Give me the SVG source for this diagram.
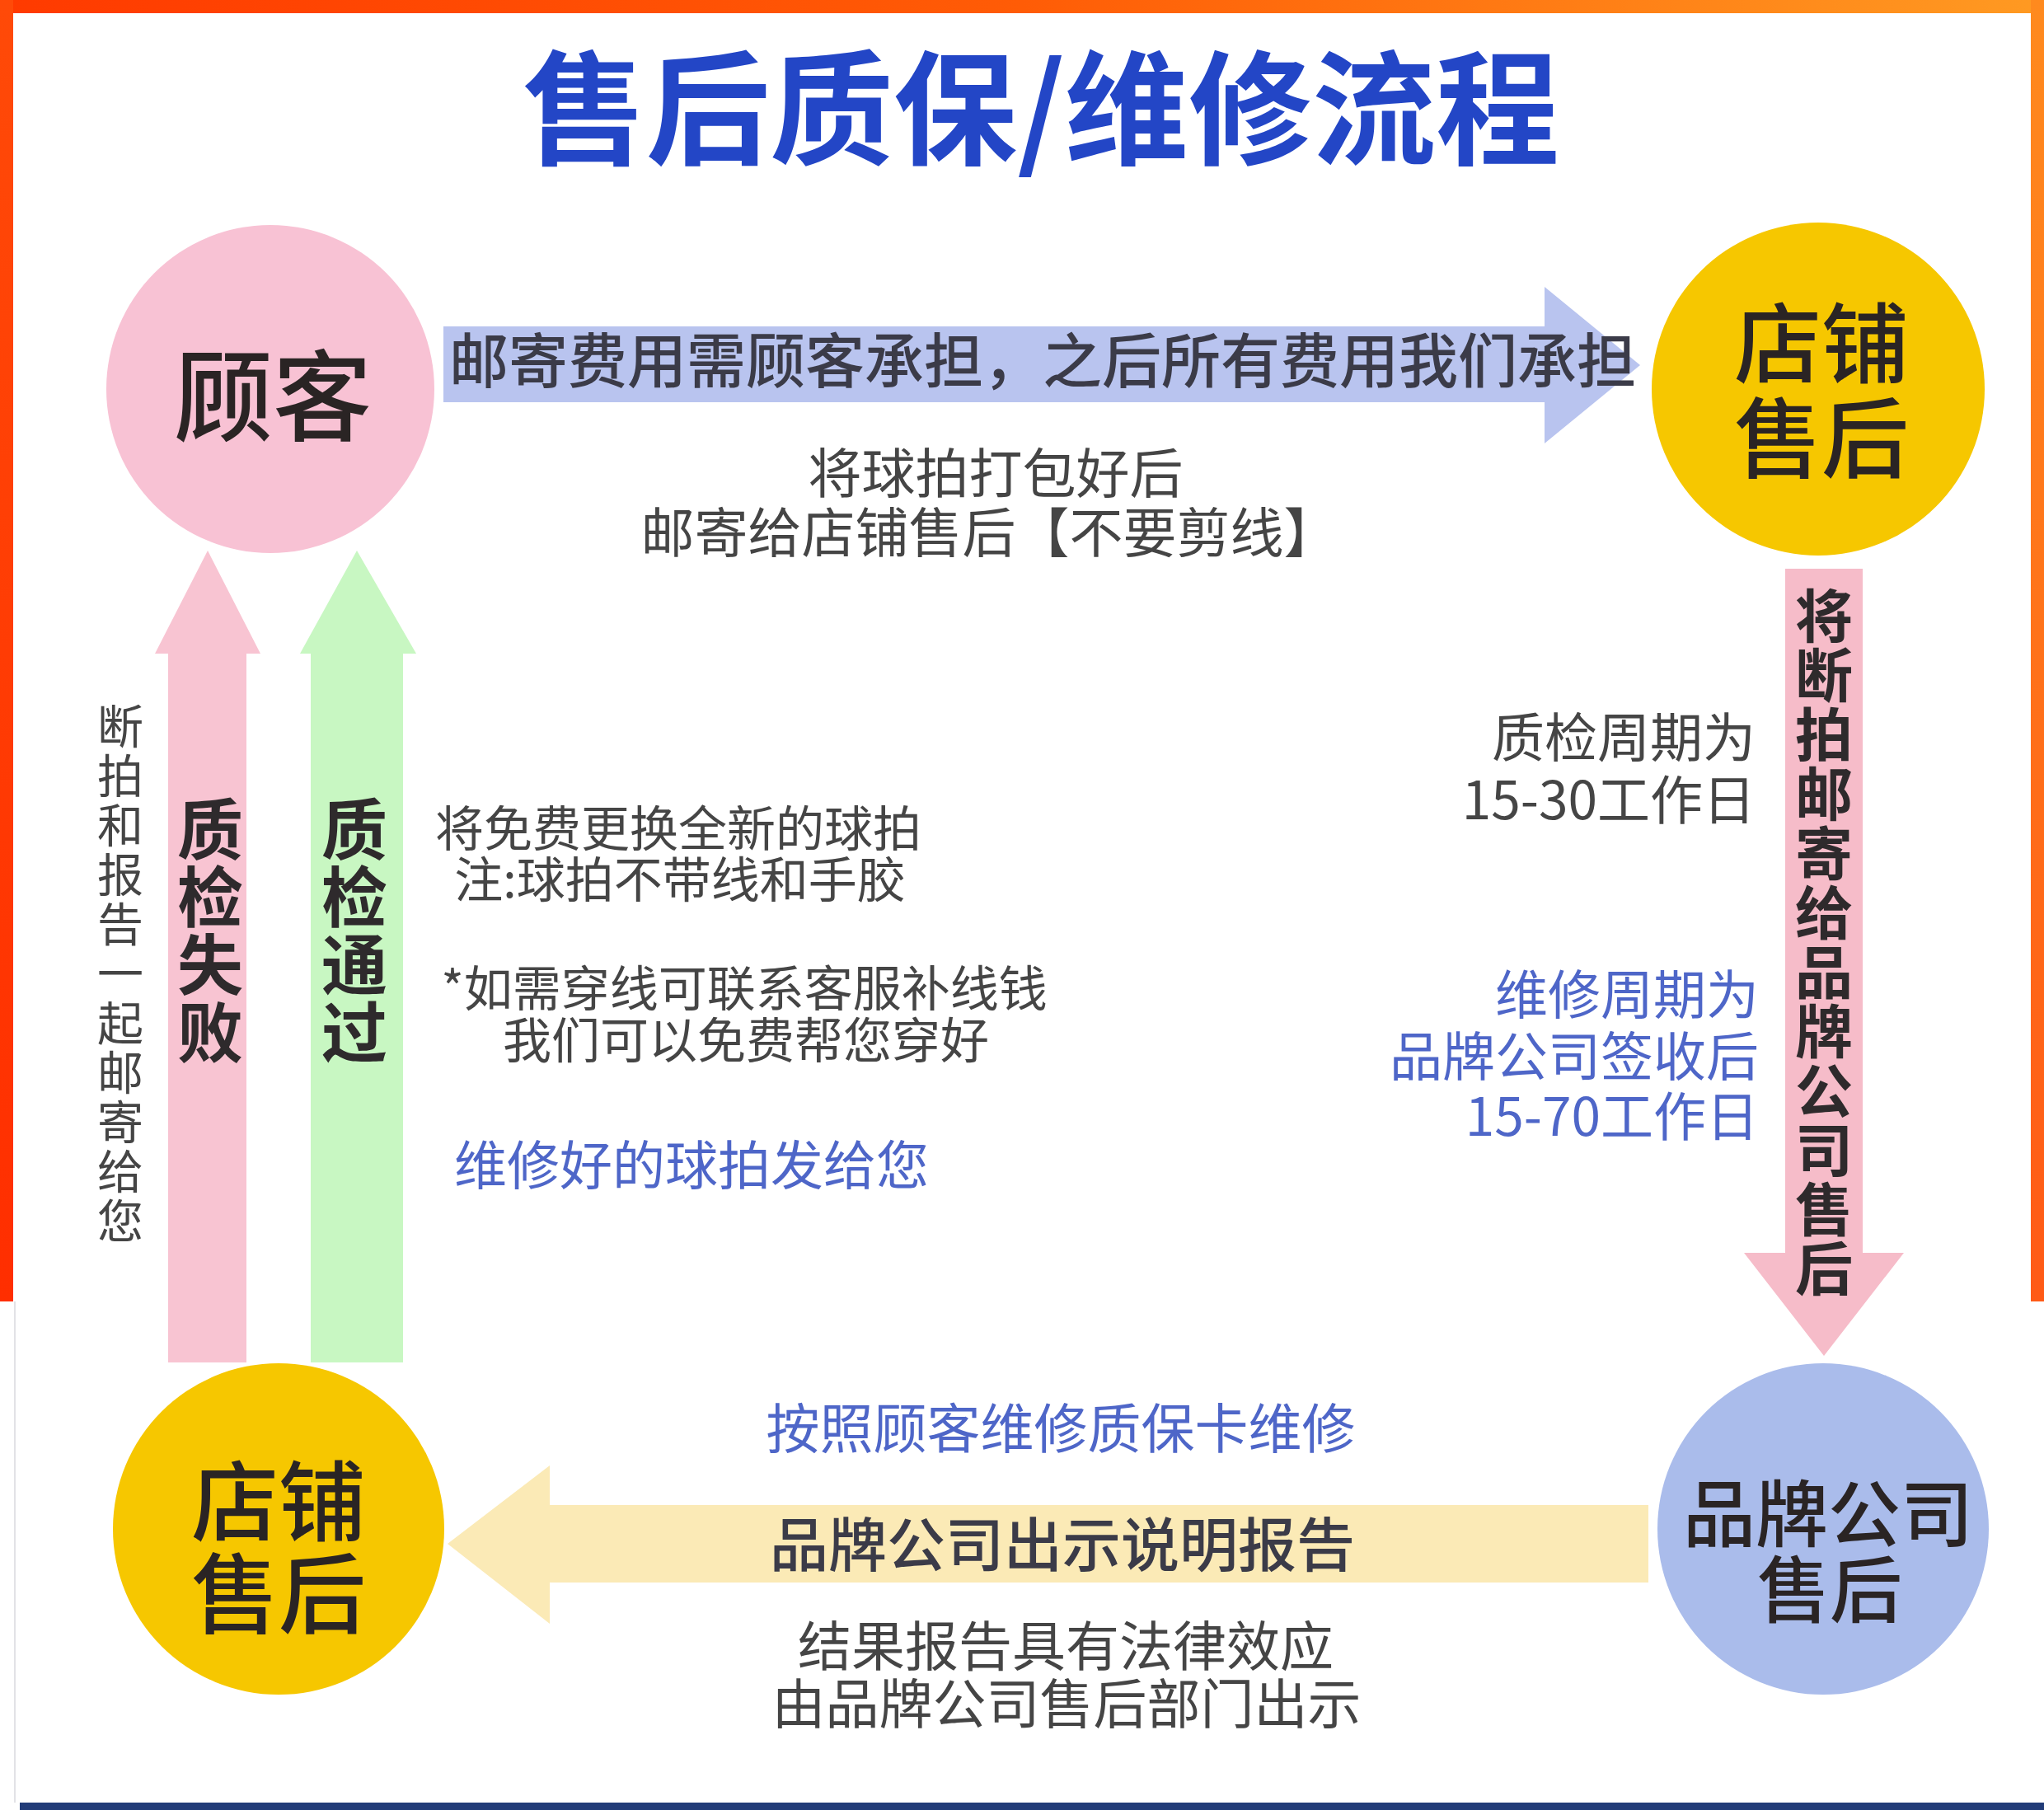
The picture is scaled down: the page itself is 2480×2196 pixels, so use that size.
<svg xmlns="http://www.w3.org/2000/svg" width="2480" height="2196" viewBox="0 0 2480 2196">
<defs>
<linearGradient id="topbar" x1="0" y1="0" x2="1" y2="0">
<stop offset="0" stop-color="#FF3A00"/>
<stop offset="0.5" stop-color="#FF5C06"/>
<stop offset="1" stop-color="#FF9A22"/>
</linearGradient>
<linearGradient id="leftbar" x1="0" y1="0" x2="0" y2="1">
<stop offset="0" stop-color="#FF4A08"/>
<stop offset="1" stop-color="#FF2E00"/>
</linearGradient>
<linearGradient id="rightbar" x1="0" y1="0" x2="0" y2="1">
<stop offset="0" stop-color="#FF8A1E"/>
<stop offset="1" stop-color="#FF5A16"/>
</linearGradient>
<style>
text{font-family:"Noto Sans CJK SC","Noto Sans",sans-serif;}
.title{font-size:150px;font-weight:700;fill:#2346C6;}
.node{font-size:118px;font-weight:500;fill:#2a2424;text-anchor:middle;}
.lab{font-size:72px;font-weight:500;fill:#3b3b48;text-anchor:middle;}
.note{font-size:64px;fill:#454545;}
.noteb{font-size:64px;fill:#4E66C8;}
.small{font-size:59px;fill:#454545;text-anchor:middle;}
.vert{font-weight:700;fill:#2e2a2c;text-anchor:middle;}
</style>
</defs>
<rect x="0" y="0" width="2480" height="2196" fill="#FFFFFF"/>
<rect x="0" y="0" width="2480" height="16" fill="url(#topbar)"/>
<rect x="0" y="0" width="16" height="1579" fill="url(#leftbar)"/>
<rect x="2464" y="0" width="16" height="1579" fill="url(#rightbar)"/>
<rect x="17" y="1579" width="2" height="608" fill="#E2E2E6"/>
<rect x="24" y="2187" width="2456" height="9" fill="#223C78"/>

<text class="title" x="1263" y="188" text-anchor="middle">售后质保/维修流程</text>

<g id="connectors">
<polygon id="arrow-top" points="538,396 1874,396 1874,348 1990,443 1874,538 1874,488 538,488" fill="#B9C4EF"/>
<polygon id="arrow-right" points="2166,690 2260,690 2260,1520 2310,1520 2213,1645 2116,1520 2166,1520" fill="#F6BCC9"/>
<polygon id="arrow-bottom" points="2000,1826 2000,1920 667,1920 667,1970 543,1873 667,1778 667,1826" fill="#FBEAB6"/>
<polygon id="arrow-fail" points="204,1653 204,793 188,793 252,668 316,793 299,793 299,1653" fill="#F8C4D2"/>
<polygon id="arrow-pass" points="377,1653 377,793 364,793 433,668 505,793 489,793 489,1653" fill="#C8F7C2"/>
</g>

<g id="labels">
<text class="lab" x="1265" y="464">邮寄费用需顾客承担，之后所有费用我们承担</text>
<text class="small" x="1208" y="598" style="font-size:65px">将球拍打包好后</text>
<text class="small" x="1200" y="670" style="font-size:65px">邮寄给店铺售后【不要剪线】</text>

<text class="vert" x="2213" style="font-size:70px"><tspan x="2213" y="774">将</tspan><tspan x="2213" y="846">断</tspan><tspan x="2213" y="918">拍</tspan><tspan x="2213" y="990">邮</tspan><tspan x="2213" y="1062">寄</tspan><tspan x="2213" y="1134">给</tspan><tspan x="2213" y="1206">品</tspan><tspan x="2213" y="1278">牌</tspan><tspan x="2213" y="1350">公</tspan><tspan x="2213" y="1422">司</tspan><tspan x="2213" y="1494">售</tspan><tspan x="2213" y="1566">后</tspan></text>

<text class="note" x="2130" y="918" text-anchor="end">质检周期为</text>
<text class="note" x="2130" y="994" text-anchor="end">15-30工作日</text>
<text class="noteb" x="2134" y="1230" text-anchor="end">维修周期为</text>
<text class="noteb" x="2134" y="1305" text-anchor="end">品牌公司签收后</text>
<text class="noteb" x="2134" y="1378" text-anchor="end">15-70工作日</text>

<text class="noteb" x="1287" y="1757" text-anchor="middle" style="font-size:65px">按照顾客维修质保卡维修</text>
<text class="lab" x="1289" y="1900" style="font-size:71px">品牌公司出示说明报告</text>
<text class="small" x="1293" y="2021" style="font-size:65px">结果报告具有法律效应</text>
<text class="small" x="1294" y="2091" style="font-size:65px">由品牌公司售后部门出示</text>

<text class="vert" style="font-size:80px"><tspan x="255" y="1036">质</tspan><tspan x="255" y="1118">检</tspan><tspan x="255" y="1200">失</tspan><tspan x="255" y="1282">败</tspan></text>
<text class="vert" style="font-size:80px"><tspan x="430" y="1036">质</tspan><tspan x="430" y="1118">检</tspan><tspan x="430" y="1200">通</tspan><tspan x="430" y="1282">过</tspan></text>
<text class="small" style="font-size:56px"><tspan x="146" y="902">断</tspan><tspan x="146" y="962">拍</tspan><tspan x="146" y="1022">和</tspan><tspan x="146" y="1082">报</tspan><tspan x="146" y="1142">告</tspan><tspan x="146" y="1202">一</tspan><tspan x="146" y="1262">起</tspan><tspan x="146" y="1322">邮</tspan><tspan x="146" y="1382">寄</tspan><tspan x="146" y="1442">给</tspan><tspan x="146" y="1502">您</tspan></text>

<text class="small" x="823" y="1027">将免费更换全新的球拍</text>
<text class="small" x="825" y="1089">注:球拍不带线和手胶</text>
<text class="small" x="903" y="1221">*如需穿线可联系客服补线钱</text>
<text class="small" x="905" y="1284">我们可以免费帮您穿好</text>
<text class="noteb" x="839" y="1437" text-anchor="middle">维修好的球拍发给您</text>
</g>

<g id="node-customer">
<circle cx="328" cy="472" r="199" fill="#F8C2D4"/>
<text class="node" x="331" y="526" style="font-size:120px">顾客</text>
</g>
<g id="node-shop-top">
<circle cx="2206" cy="472" r="202" fill="#F6C700"/>
<text class="node" x="2210" y="456" style="font-size:106px">店铺</text>
<text class="node" x="2210" y="571" style="font-size:106px">售后</text>
</g>
<g id="node-brand">
<circle cx="2212" cy="1855" r="201" fill="#AABCEB"/>
<text class="node" x="2218" y="1869" style="font-size:88px">品牌公司</text>
<text class="node" x="2220" y="1961" style="font-size:88px">售后</text>
</g>
<g id="node-shop-bottom">
<circle cx="338" cy="1855" r="201" fill="#F6C700"/>
<text class="node" x="338" y="1861" style="font-size:106px">店铺</text>
<text class="node" x="338" y="1973" style="font-size:106px">售后</text>
</g>
</svg>
